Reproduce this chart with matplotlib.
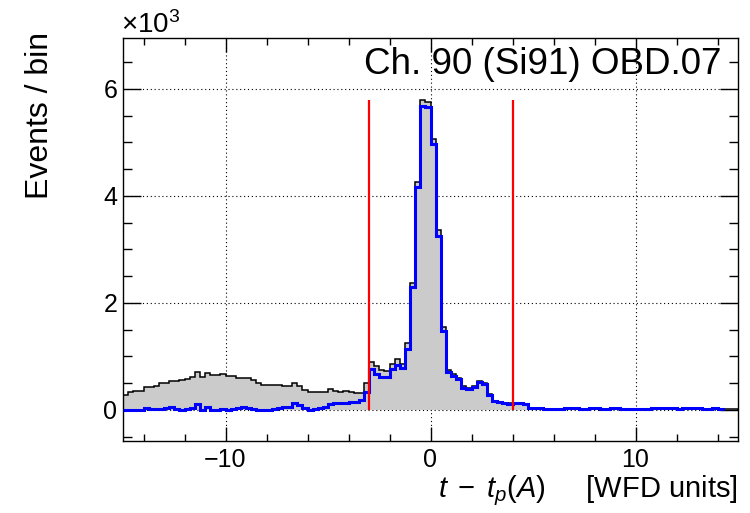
import numpy as np
import matplotlib
matplotlib.use("Agg")
import matplotlib.pyplot as plt
from matplotlib.ticker import MultipleLocator, FuncFormatter

plt.rcParams['font.family'] = ['Liberation Sans', 'DejaVu Sans']
plt.rcParams['mathtext.fontset'] = 'custom'
plt.rcParams['mathtext.rm'] = 'Liberation Sans'
plt.rcParams['mathtext.it'] = 'Liberation Sans:italic'
plt.rcParams['mathtext.bf'] = 'Liberation Sans:bold'

# ---- data ----
x_min, x_max, bin_width = -15.0, 15.0, 0.25

all_counts = [
    280, 340, 355, 360, 430, 436, 450, 500, 510, 545,
    548, 555, 575, 610, 705, 610, 685, 655, 650, 680,
    635, 630, 595, 592, 600, 555, 505, 475, 467, 462,
    458, 455, 455, 500, 440, 370, 336, 336, 336, 336,
    386, 350, 343, 355, 336, 324, 324, 505, 903, 822,
    748, 730, 860, 947, 860, 1246, 2380, 4268, 5794, 5763,
    5059, 3364, 1558, 754, 673, 598, 442, 411, 442, 536,
    505, 305, 174, 156, 135, 131, 131, 131, 110, 37,
    37, 37, 25, 25, 20, 20, 45, 45, 40, 20,
    20, 45, 45, 20, 20, 45, 45, 20, 20, 20,
    20, 20, 20, 45, 45, 35, 45, 45, 20, 45,
    45, 45, 45, 20, 20, 45, 20, 20, 20, 20,
]

selected_counts = [
    0, 0, 0, -10, 44, 12, 12, 12, 30, 50,
    12, -10, 12, 30, 106, 0, 50, 0, 0, 12,
    0, 12, 30, 50, 30, 25, 0, 5, 0, 12,
    44, 60, 60, 125, 87, 30, 0, 12, 30, 56,
    106, 125, 125, 125, 155, 155, 180, 336, 760, 673,
    610, 610, 760, 841, 779, 1134, 2305, 4174, 5682, 5657,
    4971, 3252, 1483, 710, 641, 579, 411, 392, 424, 517,
    486, 287, 162, 143, 125, 118, 131, 131, 110, 37,
    37, 37, 25, 25, 20, 20, 45, 45, 40, 20,
    20, 45, 45, 20, 20, 45, 45, 20, 20, 20,
    20, 20, 20, 45, 45, 35, 45, 45, 20, 45,
    45, 45, 45, 20, 20, 45, 20,
]

window = [-3.0, 4.0]
window_top = 5800

x_major_ticks = [-10, 0, 10]
y_major_ticks = [0, 2000, 4000, 6000]
title_text = "Ch. 90 (Si91) OBD.07"

# ---- figure ----
fig = plt.figure(figsize=(7.5, 5.13), dpi=100)
ax = fig.add_axes([123 / 750, 1 - 441 / 513, 615 / 750, 403 / 513])

edges = np.arange(len(all_counts) + 1) * bin_width + x_min
edges_sel = edges[:len(selected_counts) + 1]

ax.stairs(all_counts, edges, fill=True, color='#cbcbcb', zorder=1)
ax.stairs(all_counts, edges, color='black', lw=1.1, zorder=2)
ax.stairs(selected_counts, edges_sel, color='#0000ff', lw=2.2, zorder=3)
ax.vlines(window, 0, window_top, color='#ff0000', lw=1.6, zorder=4)

ax.set_xlim(x_min, x_max)
ax.set_ylim(-580, 6950)

ax.xaxis.set_major_locator(plt.FixedLocator(x_major_ticks))
ax.xaxis.set_minor_locator(MultipleLocator(2))
ax.yaxis.set_major_locator(plt.FixedLocator(y_major_ticks))
ax.yaxis.set_minor_locator(MultipleLocator(500))
ax.yaxis.set_major_formatter(FuncFormatter(lambda v, p: f"{v/1000:.0f}"))
ax.xaxis.set_major_formatter(FuncFormatter(lambda v, p: f"{v:.0f}".replace('-', '\u2212')))

ax.grid(True, which='major', color='black', linestyle=(0, (1, 2.5)), lw=0.8, zorder=0)
ax.set_axisbelow(True)

ax.tick_params(axis='both', which='both', direction='in', top=True, right=True,
               labelsize=18, width=1.0, color='black')
ax.tick_params(axis='x', which='major', length=10, pad=5)
ax.tick_params(axis='x', which='minor', length=5)
ax.tick_params(axis='y', which='major', length=13, pad=4)
ax.tick_params(axis='y', which='minor', length=6.5)
for s in ax.spines.values():
    s.set_linewidth(1.0)

fig.text(721 / 750, 1 - 74 / 513, title_text, fontsize=26.5, ha='right', va='baseline')
fig.text(121 / 750, 1 - 33 / 513, r"$\times$10$^{3}$", fontsize=20, ha='left', va='baseline')
fig.text(40 / 750, 1 - 115 / 513, "Events / bin", fontsize=23, rotation=90,
         ha='center', va='center')
fig.text(738 / 750, 1 - 497 / 513, r"$t\;-\;t_{p}(A)$     [WFD units]", fontsize=21,
         ha='right', va='baseline')

fig.savefig("out.png", dpi=100)
